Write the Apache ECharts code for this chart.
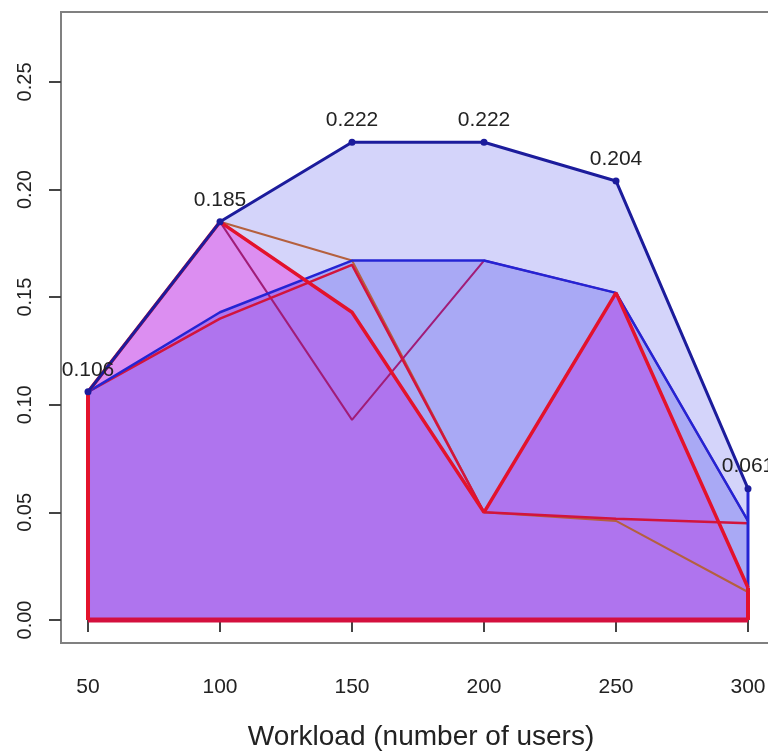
<!DOCTYPE html>
<html>
<head>
<meta charset="utf-8">
<script src="https://cdn.jsdelivr.net/npm/echarts@6/dist/echarts.min.js"></script>
<style>
  html, body { margin: 0; padding: 0; background: #fff; }
  #chart { width: 768px; height: 752px; }
</style>
</head>
<body>
<div id="chart"></div>
<script>
// workload levels (x)
const workload = [50, 100, 150, 200, 250, 300]
const xTicks = [50, 100, 150, 200, 250, 300]
const yTicks = [0, 0.05, 0.10, 0.15, 0.20, 0.25]

// polygons / lines
const outerBlue = [0.106, 0.185, 0.222, 0.222, 0.204, 0.061]   // labelled envelope
const innerBlue = [0.106, 0.143, 0.167, 0.167, 0.152, 0.046]
const redMain   = [0.106, 0.185, 0.143, 0.050, 0.152, 0.015]
const redLow    = [0.106, 0.140, 0.165, 0.050, 0.047, 0.045]
const brownLine = [0.106, 0.185, 0.167, 0.050, 0.046, 0.013]
const plumLine  = [0.106, 0.185, 0.093, 0.167, 0.152, 0.046]

const FONT = 'Liberation Sans, Arial, sans-serif'

const pairs = (ys) => workload.map((x, i) => [x, ys[i]])
const last = workload.length - 1

// area-only series (fill), lines are drawn separately on top
function area(ys, fill, z) {
  return {
    type: 'line', data: pairs(ys), z: z, silent: true,
    showSymbol: false, lineStyle: { width: 0, opacity: 0 },
    areaStyle: { color: fill, opacity: 1, origin: 0 }
  }
}
function line(data, color, width, z) {
  return {
    type: 'line', data: data, z: z, silent: true,
    showSymbol: false, lineStyle: { color: color, width: width }
  }
}

const chart = echarts.init(document.getElementById('chart'))

chart.setOption({
  animation: false,
  backgroundColor: '#fff',
  grid: {
    left: 61, top: 12, width: 720, height: 631,
    outerBoundsMode: 'none', containLabel: false,
    show: true, borderColor: '#808080', borderWidth: 2, backgroundColor: 'transparent'
  },
  xAxis: {
    type: 'value', min: 39.77, max: 312.5,
    name: 'Workload (number of users)', nameLocation: 'middle', nameGap: 80,
    nameTextStyle: { fontFamily: FONT, fontSize: 28, color: '#222' },
    axisLine: { show: false },
    splitLine: { show: false },
    axisTick: { show: true, inside: false, length: 12, customValues: xTicks, lineStyle: { color: '#444', width: 2 } },
    axisLabel: { customValues: xTicks, margin: 34, fontFamily: FONT, fontSize: 21, color: '#222' }
  },
  yAxis: {
    type: 'value', min: -0.0107, max: 0.2825,
    axisLine: { show: false },
    splitLine: { show: false },
    axisTick: { show: true, inside: false, length: 12, customValues: yTicks, lineStyle: { color: '#444', width: 2 } },
    axisLabel: {
      customValues: yTicks, rotate: 90, margin: 26,
      fontFamily: FONT, fontSize: 20, color: '#222',
      formatter: (v) => v.toFixed(2)
    }
  },
  series: [
    area(outerBlue, 'rgba(40,40,230,0.2)', 1),
    area(redMain, 'rgba(235,30,225,0.38)', 2),
    area(innerBlue, 'rgba(40,40,230,0.25)', 3),

    line(pairs(brownLine), '#b5603e', 2, 5),
    line(pairs(plumLine), '#a11c78', 2, 5),
    line(pairs(redLow), '#d2143c', 2.5, 5),
    line(pairs(innerBlue), '#2424d4', 2.5, 6),
    line(pairs(redMain), '#e3122c', 3.5, 7),
    // polygon closures
    line([[workload[0], 0], [workload[last], 0]], '#d4103e', 5, 7),
    line([[workload[0], 0], [workload[0], outerBlue[0]]], '#e3122c', 4, 7),
    line([[workload[last], redMain[last]], [workload[last], outerBlue[last]]], '#2424d4', 3, 6),
    line([[workload[last], 0], [workload[last], redMain[last]]], '#e3122c', 4, 7),
    {
      type: 'line', data: pairs(outerBlue), z: 8, silent: true,
      symbol: 'circle', symbolSize: 7,
      itemStyle: { color: '#1c1c9c' },
      lineStyle: { color: '#1c1c9c', width: 3 },
      label: {
        show: true, position: 'top', distance: 8,
        fontFamily: FONT, fontSize: 21, color: '#222',
        formatter: (p) => p.value[1].toFixed(3)
      }
    }
  ]
})
</script>
</body>
</html>
